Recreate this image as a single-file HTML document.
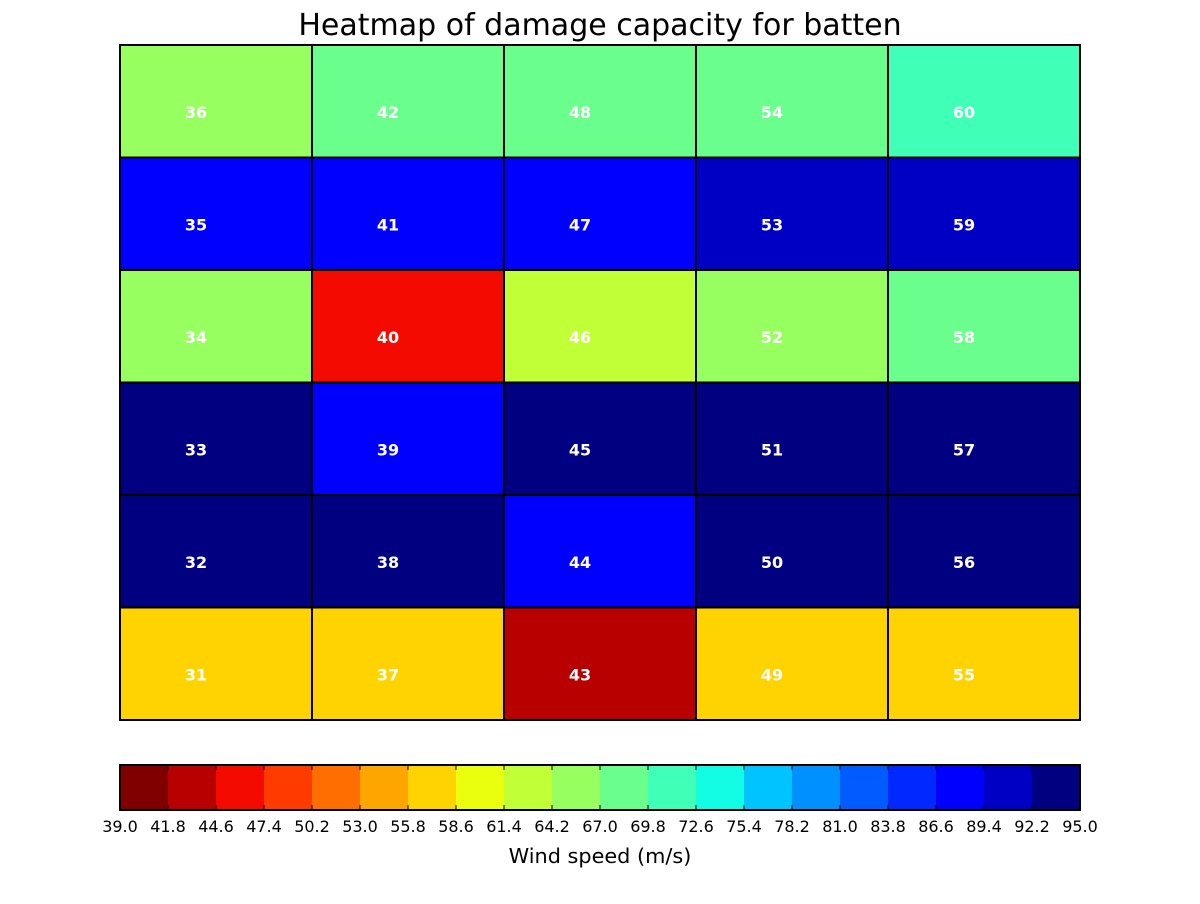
<!DOCTYPE html>
<html><head><meta charset="utf-8"><style>
body{margin:0;background:#fff;font-family:"DejaVu Sans",sans-serif}
</style></head><body>
<svg id="chart" width="1200" height="900" xmlns="http://www.w3.org/2000/svg" font-family="DejaVu Sans, sans-serif">
<text x="600" y="35" font-size="30" text-anchor="middle">Heatmap of damage capacity for batten</text>
<g id="cells"></g><g id="cbar"></g>
<text x="600" y="863" font-size="20.8" text-anchor="middle">Wind speed (m/s)</text>
</svg>
<script>
// rows top to bottom
const cellLabels = [[36,42,48,54,60],[35,41,47,53,59],[34,40,46,52,58],[33,39,45,51,57],[32,38,44,50,56],[31,37,43,49,55]];
const cellValues = [[65.6,68.4,68.4,68.4,71.2],[88.0,88.0,88.0,90.8,90.8],[65.6,46.0,62.8,65.6,68.4],[93.6,88.0,93.6,93.6,93.6],[93.6,93.6,88.0,93.6,93.6],[57.2,57.2,43.2,57.2,57.2]];
const tickLabels = ["39.0","41.8","44.6","47.4","50.2","53.0","55.8","58.6","61.4","64.2","67.0","69.8","72.6","75.4","78.2","81.0","83.8","86.6","89.4","92.2","95.0"];
const vmin = 39, vmax = 95, nBins = 20;
const palette = ["#800000","#b80000","#f50a00","#ff3b00","#ff6e00","#ffa500","#ffd300","#eaff0d","#c1ff36","#97ff60","#6aff8d","#40ffb7","#13fce4","#00c4ff","#0090ff","#005cff","#0028ff","#0000ff","#0000c4","#000080"];
const NS="http://www.w3.org/2000/svg";
const X0=120,X1=1080,Y0=45,Y1=720;
function colorOf(v){let b=Math.floor((v-vmin)/(vmax-vmin)*nBins);b=Math.max(0,Math.min(nBins-1,b));return palette[b];}
function el(t,a,p){const e=document.createElementNS(NS,t);for(const k in a)e.setAttribute(k,a[k]);p.appendChild(e);return e;}
const cells=document.getElementById('cells');
const nr=cellValues.length,nc=cellValues[0].length,cw=(X1-X0)/nc,ch=(Y1-Y0)/nr;
cellValues.forEach((row,r)=>row.forEach((v,c)=>{
 const rc=el('rect',{x:X0+c*cw,y:Y0+r*ch,width:cw,height:ch,fill:colorOf(v),stroke:'#000','stroke-width':2},cells);
 
 
 const t=el('text',{x:X0+c*cw+76,y:Y0+r*ch+73,'font-size':16,'font-weight':'bold',fill:'#fff','text-anchor':'middle'},cells);
 t.textContent=cellLabels[r][c];
 
 
}));
const cb=document.getElementById('cbar');
const CY0=765,CY1=810,bw=(X1-X0)/nBins;
palette.forEach((col,i)=>{
 const r=el('rect',{x:X0+i*bw,y:CY0,width:bw+0.5,height:CY1-CY0,fill:col},cb);
 
 
});
const fr=el('rect',{x:X0,y:CY0,width:X1-X0,height:CY1-CY0,fill:'none',stroke:'#000','stroke-width':2},cb);


tickLabels.forEach((lab,i)=>{
 const x=X0+(parseFloat(lab)-vmin)/(vmax-vmin)*(X1-X0);
 el('line',{x1:x,x2:x,y1:CY1,y2:CY1-5,stroke:'#000'},cb);
 el('line',{x1:x,x2:x,y1:CY0,y2:CY0+5,stroke:'#000'},cb);
 const t=el('text',{x:x,y:832,'font-size':16,'text-anchor':'middle'},cb);
 t.textContent=lab;
 
 
});
</script>
</body></html>
